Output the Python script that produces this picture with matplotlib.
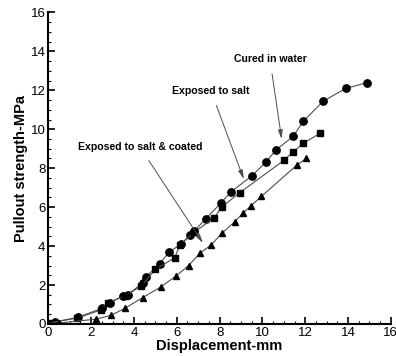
import numpy as np
import matplotlib
matplotlib.use("Agg")
import matplotlib.pyplot as plt
from matplotlib.ticker import MultipleLocator

plt.rcParams['font.family'] = ['Liberation Sans', 'DejaVu Sans']

# cured in water (circles)
water_x = [0, 0.3, 1.4, 2.5, 2.9, 3.5, 3.7, 4.4, 4.55, 5.2, 5.65, 6.2, 6.6, 6.8,
           7.35, 8.05, 8.55, 9.5, 10.15, 10.65, 11.45, 11.9, 12.85, 13.9, 14.9]
water_y = [0, 0.1, 0.35, 0.8, 1.1, 1.45, 1.5, 2.1, 2.4, 3.1, 3.7, 4.1, 4.55, 4.75,
           5.4, 6.2, 6.8, 7.6, 8.3, 8.95, 9.65, 10.4, 11.45, 12.1, 12.4]

# exposed to salt (squares)
salt_x = [0, 1.35, 2.45, 2.8, 3.6, 4.35, 5.0, 5.9, 6.15, 6.8, 7.75, 8.1, 8.95,
          11.0, 11.45, 11.9, 12.7]
salt_y = [0.05, 0.3, 0.72, 1.1, 1.45, 1.95, 2.8, 3.4, 4.05, 4.7, 5.45, 6.0, 6.75,
          8.4, 8.85, 9.27, 9.8]

# exposed to salt & coated (triangles)
coated_x = [0, 0.5, 2.25, 2.95, 3.6, 4.4, 5.25, 5.95, 6.55, 7.1, 7.6, 8.1, 8.7,
            9.1, 9.45, 9.95, 11.6, 12.05]
coated_y = [0.05, 0.05, 0.25, 0.45, 0.82, 1.35, 1.9, 2.45, 3.0, 3.65, 4.05, 4.65, 5.25,
            5.7, 6.05, 6.55, 8.15, 8.5]

labels = ["Cured in water", "Exposed to salt", "Exposed to salt & coated"]
label_xy = [(10.35, 13.6), (7.6, 11.96), (4.28, 9.09)]
arrow_tip = [(10.9, 9.5), (9.13, 7.44), (7.22, 4.16)]

fig = plt.figure(figsize=(3.96, 3.56), dpi=100)
ax = fig.add_axes([0.122, 0.09, 0.865, 0.875])

line_kw = dict(color='0.3', lw=0.8, markerfacecolor='black',
               markeredgecolor='black')
ax.plot(water_x, water_y, marker='o', ms=5.3, **line_kw)
ax.plot(salt_x, salt_y, marker='s', ms=4.6, **line_kw)
ax.plot(coated_x, coated_y, marker='^', ms=4.8, **line_kw)

for txt, (lx, ly), (tx, ty) in zip(labels, label_xy, arrow_tip):
    ax.annotate(txt, xy=(tx, ty), xytext=(lx, ly), ha='center', va='center',
                fontsize=7.6, fontweight='bold',
                arrowprops=dict(arrowstyle='-|>,head_length=0.7,head_width=0.18',
                                color='0.3', lw=0.7, shrinkA=5, shrinkB=0))

ax.set_xlim(0, 16)
ax.set_ylim(0, 16)
ax.xaxis.set_major_locator(MultipleLocator(2))
ax.yaxis.set_major_locator(MultipleLocator(2))
ax.xaxis.set_minor_locator(MultipleLocator(0.5))
ax.yaxis.set_minor_locator(MultipleLocator(0.5))
ax.spines['top'].set_visible(False)
ax.spines['right'].set_visible(False)
for s in ['left', 'bottom']:
    ax.spines[s].set_linewidth(1.5)
ax.tick_params(which='major', direction='in', length=5, width=1.2, labelsize=9.5, pad=2)
ax.tick_params(which='minor', direction='in', length=2.5, width=0.8)

ax.set_xlabel("Displacement-mm", fontsize=10.5, fontweight='bold', labelpad=0)
ax.set_ylabel("Pullout strength-MPa", fontsize=10.5, fontweight='bold', labelpad=2)

fig.savefig("out.png", dpi=100)
